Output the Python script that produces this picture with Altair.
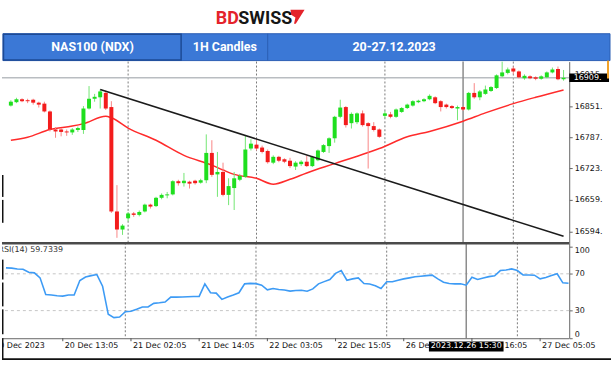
import altair as alt
import pandas as pd
import numpy as np

# ---------------- data ----------------
bars = list(range(100))
opens = [16852,16859,16865,16863,16864,16858,16856,16840,16803,16803,
         16799,16797,16802,16802,16846,16866,16869,16878,16849,16635,
         16598,16621,16631,16628,16635,16649,16646,16663,16668,16670,
         16697,16693,16696,16698,16694,16699,16755,16711,16716,16669,
         16683,16700,16706,16764,16772,16766,16759,16735,16747,16742,
         16739,16727,16732,16737,16728,16740,16757,16769,16785,16829,
         16849,16816,16818,16836,16816,16810,16803,16831,16834,16829,
         16839,16847,16852,16859,16861,16865,16869,16861,16854,16851,
         16846,16849,16844,16878,16869,16876,16882,16888,16912,16919,
         16928,16922,16908,16912,16910,16907,16910,16920,16927,16906]
highs = [16863,16868,16867,16866,16866,16860,16860,16842,16808,16806,
         16803,16806,16809,16851,16892,16876,16885,16883,16861,16689,
         16609,16634,16634,16637,16651,16651,16665,16672,16675,16699,
         16700,16714,16698,16700,16702,16793,16781,16757,16735,16703,
         16716,16712,16791,16783,16783,16770,16762,16750,16749,16744,
         16745,16738,16740,16750,16749,16762,16773,16787,16831,16864,
         16851,16838,16838,16842,16818,16818,16805,16841,16839,16846,
         16849,16856,16863,16864,16867,16875,16871,16863,16856,16853,
         16852,16851,16880,16898,16884,16893,16892,16916,16942,16930,
         16932,16924,16916,16914,16912,16914,16922,16930,16932,16925]
lows = [16850,16857,16859,16857,16854,16848,16838,16799,16786,16789,
        16790,16792,16798,16794,16844,16860,16846,16843,16632,16581,
        16587,16615,16624,16625,16633,16641,16644,16660,16662,16668,
        16688,16686,16682,16690,16692,16693,16706,16665,16666,16648,
        16638,16697,16704,16760,16760,16754,16733,16732,16736,16734,
        16724,16720,16728,16726,16726,16738,16755,16755,16776,16826,
        16807,16805,16814,16809,16723,16799,16786,16826,16826,16827,
        16837,16845,16850,16857,16859,16863,16855,16840,16846,16845,
        16822,16841,16842,16866,16863,16874,16880,16886,16910,16916,
        16916,16908,16905,16906,16904,16905,16908,16918,16904,16903]
closes = [16860,16865,16861,16861,16858,16854,16840,16803,16799,16798,
          16797,16803,16806,16846,16866,16870,16881,16846,16635,16598,
          16606,16631,16628,16634,16649,16645,16663,16669,16670,16697,
          16693,16698,16692,16693,16699,16755,16710,16716,16669,16687,
          16703,16708,16762,16774,16764,16757,16736,16747,16739,16737,
          16728,16735,16737,16728,16747,16760,16771,16785,16829,16848,
          16812,16835,16836,16812,16810,16802,16788,16836,16829,16844,
          16847,16854,16861,16862,16865,16872,16857,16849,16849,16847,
          16849,16844,16878,16869,16881,16885,16890,16914,16920,16926,
          16922,16910,16913,16908,16907,16912,16920,16926,16906,16909]
rsi = [76.4,76.2,75.3,75.0,71.7,71.0,65.6,47.6,47.0,46.2,
       45.8,47.0,47.0,62.7,66.5,68.0,69.2,56.6,26.0,22.4,
       23.0,28.8,29.4,31.4,34.0,34.0,37.9,38.5,39.3,44.7,
       44.7,44.8,45.0,45.3,45.5,59.1,49.4,49.0,42.2,44.8,
       47.0,49.4,59.1,59.6,59.3,57.7,52.6,54.0,53.0,52.4,
       51.2,51.8,52.2,51.1,53.6,59.1,61.5,63.8,70.5,73.5,
       63.0,64.5,65.6,59.5,59.0,57.0,54.0,61.3,61.3,63.0,
       64.5,65.6,66.8,67.4,68.0,68.5,64.5,60.9,59.5,59.1,
       59.1,57.6,66.3,63.8,65.5,66.9,67.8,73.5,74.2,75.3,
       73.5,68.8,68.7,68.5,64.5,66.0,68.1,70.0,60.2,59.7339]
ma_bars = [0, 3, 7, 11, 13, 17, 18, 21, 26, 31, 36, 38, 40, 44, 47, 50, 53, 58, 64, 66, 71, 75, 81, 85, 90, 94, 99]
ma_vals = [16781, 16787, 16803, 16810, 16815, 16830, 16827, 16806, 16781, 16750, 16730, 16720, 16711, 16703,
           16691, 16701, 16714, 16733, 16756, 16764, 16788, 16799, 16820, 16837, 16856, 16869, 16884]
trend_bars = [16, 99]
trend_vals = [16885, 16584]
day_sep_bars = [21, 44, 67, 90]
cross_bar = [81]
cross_label = ["2023.12.26 15:30"]
bid = [16909]
price_ticks = [16594, 16659, 16723, 16787, 16851, 16915]
rsi_ticks = [0, 30, 70, 100]
rsi_levels = [30, 70]
xlab_first_bar = [-2]
xlab_first_text = ["20 Dec 2023"]
xlab_bars = [10, 22, 34, 46, 58, 70, 82, 94]
xlab_text = ["20 Dec 13:05", "21 Dec 02:05", "21 Dec 14:05", "22 Dec 03:05",
             "22 Dec 15:05", "26 Dec 04:05", "26 Dec 16:05", "27 Dec 05:05"]
title_cells = ["NAS100 (NDX)", "1H Candles", "20-27.12.2023"]
rsi_title = "RSI(14) 59.7339"

# ---------------- frames ----------------
cdf = pd.DataFrame({"bar": bars, "open": opens, "high": highs, "low": lows, "close": closes})
cdf["dir"] = np.where(cdf["close"] >= cdf["open"], "up", "down")
cdf["wdir"] = "w" + cdf["dir"]
rdf = pd.DataFrame({"bar": bars, "rsi": rsi})
madf = pd.DataFrame({"bar": ma_bars, "ma": ma_vals})
trdf = pd.DataFrame({"bar": trend_bars, "p": trend_vals})
sepdf = pd.DataFrame({"bar": day_sep_bars})
crdf = pd.DataFrame({"bar": cross_bar, "label": cross_label})
biddf = pd.DataFrame({"p": bid, "label": [f"{b}." for b in bid]})
lvdf = pd.DataFrame({"v": rsi_levels})
xl1 = pd.DataFrame({"bar": xlab_first_bar, "t": xlab_first_text})
xl = pd.DataFrame({"bar": xlab_bars, "t": xlab_text})
one = pd.DataFrame({"a": [0]})

FONT = "DejaVu Sans"
HFONT = "Roboto"
W = 570
GREEN, RED = "#1fdf1f", "#f31c1c"
GREEN_W, RED_W = "#74e674", "#f98585"

xs = alt.Scale(domain=[-0.7, 99.12], nice=False, zero=False)
ys = alt.Scale(domain=[16571, 16942.2], nice=False, zero=False)
rs = alt.Scale(domain=[0, 103.8], nice=False, zero=False)
cs = alt.Scale(domain=["up", "down", "wup", "wdown"], range=[GREEN, RED, GREEN_W, RED_W])

yaxis = alt.Axis(orient="right", values=price_ticks, labelExpr="datum.value + '.'", grid=False,
                 domainColor="#666", tickColor="#666", tickSize=3, labelPadding=2, title=None,
                 labelFont=FONT, labelFontSize=8, labelColor="#111")
raxis = alt.Axis(orient="right", values=rsi_ticks, grid=False, labelFlush=5,
                 domainColor="#666", tickColor="#666", tickSize=3, labelPadding=2, title=None,
                 labelFont=FONT, labelFontSize=8, labelColor="#111")

def X(f="bar"):
    return alt.X(f"{f}:Q", scale=xs, axis=None)

def Y(f):
    return alt.Y(f"{f}:Q", scale=ys, axis=yaxis)

def R(f):
    return alt.Y(f"{f}:Q", scale=rs, axis=raxis)

def edge(y0, y1):
    # thin dark border fragments along the left edge of the screenshot
    return alt.Chart(one).mark_rule(color="#111", strokeWidth=1.5).encode(
        x=alt.value(0.75), y=alt.value(y0), y2=alt.value(y1))

# ---------------- header ----------------
arrow_path = "M -1 -1 L 1 -1 L -0.25 1 L -0.5 1 L -0.3 0.1 L -0.9 -0.3 Z"
def cell_text(t, x):
    return alt.Chart(one).mark_text(text=t, font=HFONT, fontSize=12.5, fontWeight="bold",
                                    color="white", align="center", baseline="middle").encode(
        x=alt.value(x), y=alt.value(46.5))

header = alt.layer(
    alt.Chart(one).mark_text(text="BD", font=HFONT, fontSize=18, fontWeight="bold",
                             color="#e4232b", align="right", baseline="alphabetic")
        .encode(x=alt.value(238), y=alt.value(23)),
    alt.Chart(one).mark_text(text="SWISS", font=HFONT, fontSize=18, fontWeight="bold",
                             color="#161616", align="left", baseline="alphabetic")
        .encode(x=alt.value(237.5), y=alt.value(23)),
    alt.Chart(one).mark_point(shape=arrow_path, filled=True, color="#e4232b", opacity=1, size=200)
        .encode(x=alt.value(297), y=alt.value(16)),
    alt.Chart(one).mark_rect(color="#3b78d6", stroke="#2b5fb3", strokeWidth=1)
        .encode(x=alt.value(1), x2=alt.value(611), y=alt.value(33), y2=alt.value(60)),
    alt.Chart(one).mark_rect(fillOpacity=0, stroke="#1d4a95", strokeWidth=1.5)
        .encode(x=alt.value(1.5), x2=alt.value(180), y=alt.value(33.5), y2=alt.value(59.5)),
    alt.Chart(one).mark_rule(color="#2b5fb3", strokeWidth=1)
        .encode(x=alt.value(267), y=alt.value(33), y2=alt.value(60)),
    cell_text(title_cells[0], 91),
    cell_text(title_cells[1], 224),
    cell_text(title_cells[2], 394),
).properties(width=612, height=61)

# ---------------- main price panel ----------------
box_path = "M -1 -0.21 L 1 -0.21 L 1 0.21 L -1 0.21 Z"
main = alt.layer(
    alt.Chart(sepdf).mark_rule(color="#7a7a7a", strokeDash=[2, 2], strokeWidth=1).encode(x=X()),
    alt.Chart(biddf).mark_rule(color="#b9bdc1", strokeWidth=1.5).encode(y=Y("p")),
    alt.Chart(crdf).mark_rule(color="#8c8c8c", strokeWidth=1.5).encode(x=X()),
    alt.Chart(madf).mark_line(color="#ff2b2b", strokeWidth=1.5, interpolate="monotone")
        .encode(x=X(), y=Y("ma")),
    alt.Chart(cdf).mark_rule(strokeWidth=1)
        .encode(x=X(), y=Y("low"), y2="high:Q", color=alt.Color("wdir:N", scale=cs, legend=None)),
    alt.Chart(cdf).mark_bar(size=4)
        .encode(x=X(), y=Y("open"), y2="close:Q", color=alt.Color("dir:N", scale=cs, legend=None)),
    alt.Chart(trdf).mark_line(color="#1b1b1b", strokeWidth=1.6).encode(x=X(), y=Y("p")),
    alt.Chart(biddf).mark_point(shape=box_path, filled=True, color="#000", opacity=1, size=1600)
        .encode(x=alt.value(590), y=Y("p")),
    alt.Chart(biddf).mark_text(color="white", font=FONT, fontSize=8, align="left", baseline="middle")
        .encode(x=alt.value(574.5), y=Y("p"), text="label:N"),
    alt.Chart(one).mark_rule(color="#f2a229", strokeWidth=2)
        .encode(x=alt.value(609), y=alt.value(-1), y2=alt.value(17)),
    edge(114, 136),
    edge(139, 162),
).properties(width=W, height=182)

# ---------------- RSI panel ----------------
rsi_panel = alt.layer(
    alt.Chart(lvdf).mark_rule(color="#c6c6c6", strokeDash=[3, 3], strokeWidth=1).encode(y=R("v")),
    alt.Chart(sepdf).mark_rule(color="#7a7a7a", strokeDash=[2, 2], strokeWidth=1).encode(x=X()),
    alt.Chart(crdf).mark_rule(color="#8c8c8c", strokeWidth=1.5).encode(x=X()),
    alt.Chart(rdf).mark_line(color="#3d9bf5", strokeWidth=1.6).encode(x=X(), y=R("rsi")),
    alt.Chart(one).mark_rule(color="#4a4a4a", strokeWidth=2.5)
        .encode(x=alt.value(0), x2=alt.value(W), y=alt.value(0.5)),
    alt.Chart(one).mark_text(text=rsi_title, font=FONT, fontSize=8, color="#333", align="left",
                             baseline="middle", clip=True)
        .encode(x=alt.value(-3.6), y=alt.value(7.5)),
    edge(17, 37),
    edge(40, 64),
    edge(67, 92),
).properties(width=W, height=96)

# ---------------- time labels row ----------------
cross_box = "M -1 -0.1333 L 1 -0.1333 L 1 0.1333 L -1 0.1333 Z"
xrow = alt.layer(
    alt.Chart(one).mark_rule(color="#666", strokeWidth=1)
        .encode(x=alt.value(0), x2=alt.value(W), y=alt.value(0.5)),
    alt.Chart(xl).mark_rule(color="#555", strokeWidth=1)
        .encode(x=X(), y=alt.value(0), y2=alt.value(3)),
    alt.Chart(xl1).mark_text(font=FONT, fontSize=8, color="#111", align="left", baseline="middle",
                             dx=-0.5, clip=True)
        .encode(x=X(), y=alt.value(8.3), text="t:N"),
    alt.Chart(xl).mark_text(font=FONT, fontSize=8, color="#111", align="left", baseline="middle", dx=2)
        .encode(x=X(), y=alt.value(8.3), text="t:N"),
    alt.Chart(crdf).mark_point(shape=cross_box, filled=True, color="#000", opacity=1, size=5625)
        .encode(x=X(), y=alt.value(8.3)),
    alt.Chart(crdf).mark_text(font=FONT, fontSize=8, color="white", align="center", baseline="middle")
        .encode(x=X(), y=alt.value(8.3), text="label:N"),
    alt.Chart(one).mark_rule(color="#111", strokeWidth=2)
        .encode(x=alt.value(0), x2=alt.value(612), y=alt.value(21)),
    edge(0, 21),
).properties(width=W, height=22)

chart = alt.vconcat(header, main, rsi_panel, xrow, spacing=0, bounds="flush").properties(
    padding=0, background="white"
).configure_view(stroke=None).configure_concat(spacing=0)

chart.save("out.html", embed_options={"renderer": "svg", "actions": False})
